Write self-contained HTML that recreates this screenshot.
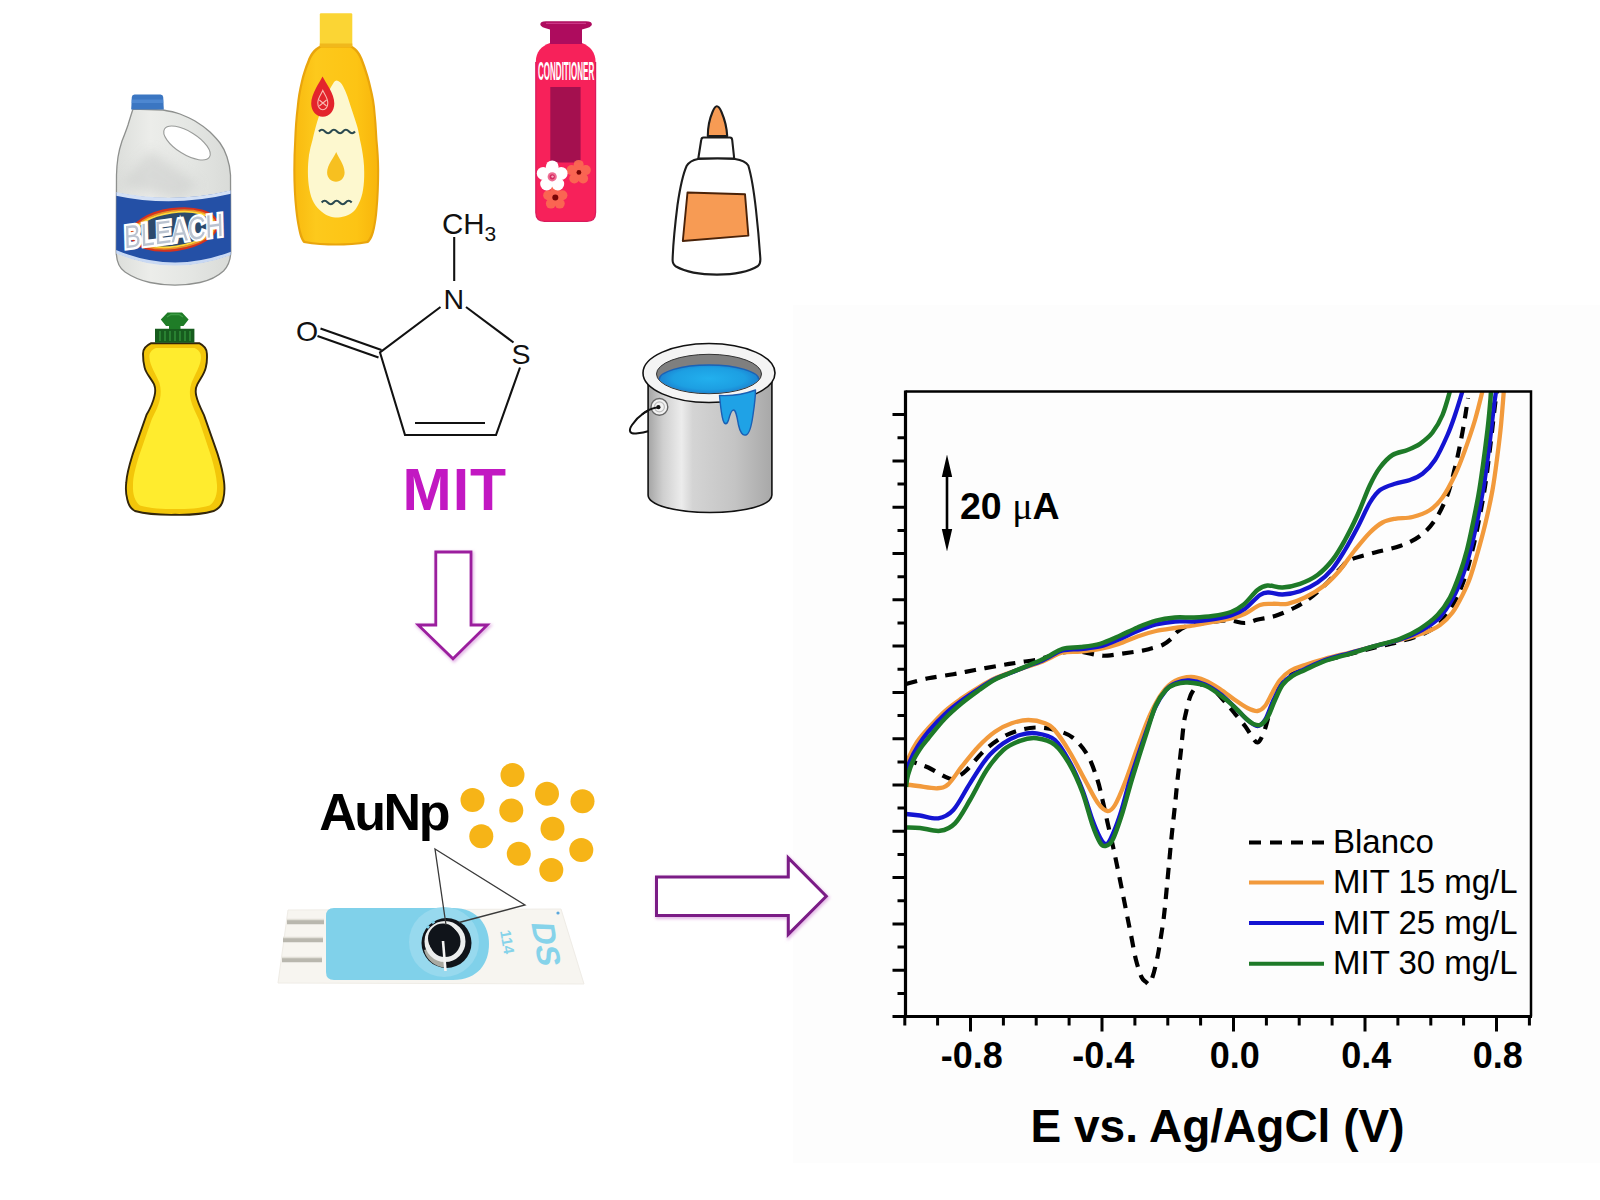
<!DOCTYPE html>
<html lang="es">
<head>
<meta charset="utf-8">
<title>MIT – AuNp – voltamperometría</title>
<style>
html,body{margin:0;padding:0;background:#fff;}
body{width:1600px;height:1200px;overflow:hidden;font-family:"Liberation Sans",sans-serif;}
svg{display:block;}
.b{font-family:"Liberation Sans",sans-serif;font-weight:700;}
.r{font-family:"Liberation Sans",sans-serif;font-weight:400;}
</style>
</head>
<body>
<svg width="1600" height="1200" viewBox="0 0 1600 1200">
<rect width="1600" height="1200" fill="#ffffff"/>

<!-- ================= CHART ================= -->
<g id="chart">
<defs><clipPath id="plotclip"><rect x="905.5" y="391.5" width="625.5" height="625.0"/></clipPath></defs>
<rect x="793" y="305" width="807" height="858" fill="#fdfdfd"/>
<g clip-path="url(#plotclip)" fill="none" stroke-linejoin="round" stroke-linecap="butt">
<path d="M906.0,684.0C909.7,683.0 920.4,679.9 928.3,678.3C936.2,676.7 945.5,675.6 953.3,674.2C961.1,672.8 967.5,671.4 975.0,670.0C982.5,668.6 991.1,667.0 998.3,665.8C1005.5,664.5 1011.3,663.6 1018.3,662.5C1025.2,661.4 1033.0,660.6 1040.0,659.0C1047.0,657.4 1053.7,654.2 1060.0,653.0C1066.3,651.8 1071.8,651.2 1078.0,651.5C1084.2,651.8 1092.6,654.3 1097.5,655.0C1102.4,655.7 1102.1,656.0 1107.5,655.6C1112.9,655.2 1124.2,653.3 1130.0,652.5C1135.8,651.7 1139.2,651.2 1142.5,650.6C1145.8,650.0 1146.7,649.7 1150.0,648.8C1153.3,647.8 1158.8,646.8 1162.5,645.0C1166.2,643.2 1169.6,640.2 1172.0,638.0C1174.4,635.8 1174.7,633.9 1177.0,632.0C1179.3,630.1 1182.2,627.9 1186.0,626.5C1189.8,625.1 1195.2,624.3 1200.0,623.5C1204.8,622.7 1210.0,622.0 1215.0,621.5C1220.0,621.0 1225.0,620.2 1230.0,620.5C1235.0,620.8 1240.3,623.2 1245.0,623.0C1249.7,622.8 1253.0,620.7 1258.0,619.5C1263.0,618.3 1268.8,618.0 1275.0,616.0C1281.2,614.0 1289.2,610.5 1295.0,607.5C1300.8,604.5 1305.0,601.8 1310.0,598.0C1315.0,594.2 1320.0,589.8 1325.0,585.0C1330.0,580.2 1335.8,573.2 1340.0,569.0C1344.2,564.8 1344.2,562.8 1350.0,560.0C1355.8,557.2 1366.7,554.8 1375.0,552.5C1383.3,550.2 1392.5,548.8 1400.0,546.0C1407.5,543.2 1414.2,540.3 1420.0,536.0C1425.8,531.7 1430.4,526.8 1435.0,520.0C1439.6,513.2 1444.2,503.8 1447.5,495.0C1450.8,486.2 1452.9,475.8 1455.0,467.5C1457.1,459.2 1458.3,453.3 1460.0,445.0C1461.7,436.7 1463.7,425.3 1465.0,417.5C1466.3,409.7 1467.5,401.2 1468.0,398.0" stroke="#000" stroke-width="4.2" stroke-dasharray="11.5 8.5"/>
<path d="M906.0,759.0C907.8,759.7 913.0,761.9 916.7,763.3C920.4,764.7 923.6,765.3 928.3,767.5C933.0,769.7 941.1,774.8 945.0,776.7C948.9,778.6 949.5,779.0 951.7,779.0C953.9,779.0 955.5,778.0 958.0,776.5C960.5,775.0 962.2,774.4 966.7,770.0C971.2,765.6 978.9,755.5 985.0,750.0C991.1,744.5 997.5,740.0 1003.3,736.7C1009.1,733.4 1014.4,731.5 1020.0,730.0C1025.6,728.5 1030.9,727.5 1036.7,727.5C1042.5,727.5 1049.0,728.3 1055.0,730.0C1061.0,731.7 1067.1,733.3 1072.5,737.5C1077.9,741.7 1083.3,747.9 1087.5,755.0C1091.7,762.1 1095.0,772.5 1097.5,780.0C1100.0,787.5 1100.8,792.9 1102.5,800.0C1104.2,807.1 1105.6,814.2 1107.5,822.5C1109.4,830.8 1111.7,840.4 1113.8,850.0C1115.8,859.6 1118.0,870.0 1120.0,880.0C1122.0,890.0 1124.2,900.8 1126.0,910.0C1127.8,919.2 1129.3,926.7 1131.0,935.0C1132.7,943.3 1134.2,953.0 1136.0,960.0C1137.8,967.0 1139.8,973.3 1141.5,977.0C1143.2,980.7 1144.7,980.8 1146.0,982.0C1147.3,983.2 1148.1,984.8 1149.2,984.0C1150.3,983.2 1151.5,980.0 1152.5,977.0C1153.5,974.0 1154.5,970.5 1155.5,966.0C1156.5,961.5 1157.4,958.1 1158.8,950.0C1160.1,941.9 1162.3,929.2 1163.8,917.5C1165.2,905.8 1166.3,892.5 1167.5,880.0C1168.7,867.5 1169.8,855.0 1171.0,842.5C1172.2,830.0 1173.9,815.4 1175.0,805.0C1176.1,794.6 1176.5,789.2 1177.5,780.0C1178.5,770.8 1180.0,759.4 1181.0,750.0C1182.0,740.6 1182.9,730.0 1183.8,723.8C1184.6,717.5 1185.1,716.7 1186.0,712.5C1186.9,708.3 1188.4,702.1 1189.4,698.8C1190.4,695.4 1190.6,694.7 1192.0,692.5C1193.4,690.3 1195.7,686.8 1198.0,685.5C1200.3,684.2 1203.0,683.9 1206.0,685.0C1209.0,686.1 1212.4,688.7 1216.0,692.0C1219.6,695.3 1224.3,701.4 1227.5,705.0C1230.7,708.6 1232.1,710.2 1235.0,713.8C1237.9,717.2 1242.3,722.5 1245.0,726.0C1247.7,729.5 1248.9,732.2 1251.0,735.0C1253.1,737.8 1255.4,742.9 1257.5,742.5C1259.6,742.1 1261.7,737.6 1263.8,732.5C1265.8,727.4 1267.6,719.1 1270.0,712.0C1272.4,704.9 1274.7,696.2 1278.0,690.0C1281.3,683.8 1285.5,678.7 1290.0,675.0C1294.5,671.3 1299.2,670.4 1305.0,668.0C1310.8,665.6 1317.5,662.8 1325.0,660.5C1332.5,658.2 1341.7,656.2 1350.0,654.0C1358.3,651.8 1366.7,649.6 1375.0,647.5C1383.3,645.4 1391.7,643.9 1400.0,641.5C1408.3,639.1 1418.2,636.2 1425.0,633.0C1431.8,629.8 1436.2,627.0 1441.0,622.0C1445.8,617.0 1450.2,610.0 1454.0,603.0C1457.8,596.0 1461.0,588.5 1464.0,580.0C1467.0,571.5 1469.3,562.8 1472.0,552.0C1474.7,541.2 1477.7,527.0 1480.0,515.0C1482.3,503.0 1484.2,492.5 1486.0,480.0C1487.8,467.5 1489.5,452.5 1491.0,440.0C1492.5,427.5 1494.0,413.2 1495.0,405.0C1496.0,396.8 1496.7,393.3 1497.0,391.0" stroke="#000" stroke-width="4.2" stroke-dasharray="11.5 8.5"/>
<path d="M906.0,767.0C906.5,765.3 907.2,761.2 909.0,757.0C910.8,752.8 913.8,746.8 917.0,742.0C920.2,737.2 923.6,733.5 928.3,728.3C933.0,723.1 939.4,716.0 945.0,711.0C950.6,706.0 955.9,702.4 961.7,698.3C967.5,694.2 974.5,689.8 980.0,686.5C985.5,683.2 990.0,680.6 995.0,678.3C1000.0,676.0 1004.5,674.5 1010.0,672.5C1015.5,670.5 1023.0,668.2 1028.0,666.5C1033.0,664.8 1036.3,663.9 1040.0,662.5C1043.7,661.1 1046.2,659.7 1050.0,658.0C1053.8,656.3 1057.3,653.6 1062.5,652.5C1067.7,651.4 1074.8,652.1 1081.0,651.5C1087.2,650.9 1093.7,650.2 1100.0,649.0C1106.3,647.8 1112.5,646.1 1118.8,644.0C1125.0,641.9 1131.3,638.7 1137.5,636.5C1143.7,634.3 1149.8,632.4 1156.0,631.0C1162.2,629.6 1168.7,628.9 1175.0,628.0C1181.3,627.1 1187.8,626.5 1194.0,625.5C1200.2,624.5 1206.3,623.2 1212.5,622.0C1218.7,620.8 1225.6,619.9 1231.0,618.5C1236.4,617.1 1240.2,616.0 1245.0,613.8C1249.8,611.5 1255.4,606.7 1260.0,605.0C1264.6,603.3 1267.9,604.0 1272.5,603.8C1277.1,603.5 1282.1,604.8 1287.5,603.8C1292.9,602.7 1298.8,600.6 1305.0,597.5C1311.2,594.4 1319.2,589.6 1325.0,585.0C1330.8,580.4 1335.0,575.8 1340.0,570.0C1345.0,564.2 1350.0,556.2 1355.0,550.0C1360.0,543.8 1365.4,537.1 1370.0,532.5C1374.6,527.9 1378.3,524.8 1382.5,522.5C1386.7,520.2 1390.0,519.7 1395.0,518.8C1400.0,517.8 1406.7,518.5 1412.5,517.0C1418.3,515.5 1425.0,513.2 1430.0,510.0C1435.0,506.8 1438.3,503.3 1442.5,497.5C1446.7,491.7 1451.2,482.9 1455.0,475.0C1458.8,467.1 1461.7,459.2 1465.0,450.0C1468.3,440.8 1472.1,429.8 1475.0,420.0C1477.9,410.2 1480.5,399.3 1482.5,391.0C1484.5,382.7 1486.2,373.5 1487.0,370.0" stroke="#f29a3c" stroke-width="4.3"/>
<path d="M906.0,784.5C908.0,784.8 912.9,785.4 918.0,786.0C923.1,786.6 931.7,788.5 936.7,788.3C941.7,788.0 943.8,788.1 948.0,784.5C952.2,780.9 956.7,773.0 961.7,766.7C966.8,760.4 972.8,752.5 978.3,746.7C983.8,740.9 989.4,735.6 995.0,731.7C1000.6,727.8 1006.2,725.2 1011.7,723.3C1017.2,721.3 1022.8,720.0 1028.3,720.0C1033.8,720.0 1040.5,721.5 1045.0,723.3C1049.5,725.0 1050.8,725.6 1055.0,730.5C1059.2,735.4 1065.0,744.2 1070.0,752.5C1075.0,760.8 1080.4,771.7 1085.0,780.0C1089.6,788.3 1093.8,797.3 1097.5,802.5C1101.2,807.7 1104.6,810.6 1107.5,811.0C1110.4,811.4 1112.1,809.8 1115.0,805.0C1117.9,800.2 1121.2,792.1 1125.0,782.5C1128.8,772.9 1133.3,758.8 1137.5,747.5C1141.7,736.2 1145.8,724.2 1150.0,715.0C1154.2,705.8 1158.3,698.2 1162.5,692.5C1166.7,686.8 1170.2,683.6 1175.0,681.0C1179.8,678.4 1186.0,677.1 1191.0,677.0C1196.0,676.9 1200.2,678.5 1205.0,680.5C1209.8,682.5 1215.0,685.8 1220.0,689.0C1225.0,692.2 1230.4,696.8 1235.0,700.0C1239.6,703.2 1243.8,706.2 1247.5,708.0C1251.2,709.8 1254.6,711.3 1257.5,711.0C1260.4,710.7 1262.5,709.1 1265.0,706.0C1267.5,702.9 1270.0,696.8 1272.5,692.5C1275.0,688.2 1277.1,683.6 1280.0,680.0C1282.9,676.4 1285.8,673.5 1290.0,671.0C1294.2,668.5 1299.2,667.0 1305.0,665.0C1310.8,663.0 1317.5,660.8 1325.0,658.8C1332.5,656.7 1341.7,654.6 1350.0,652.5C1358.3,650.4 1366.7,648.1 1375.0,646.0C1383.3,643.9 1391.7,642.2 1400.0,640.0C1408.3,637.8 1418.3,635.0 1425.0,632.5C1431.7,630.0 1435.4,628.3 1440.0,625.0C1444.6,621.7 1448.8,617.5 1452.5,612.5C1456.2,607.5 1459.6,600.8 1462.5,595.0C1465.4,589.2 1467.6,584.7 1470.0,578.0C1472.4,571.3 1474.5,563.8 1477.0,555.0C1479.5,546.2 1482.4,535.8 1485.0,525.0C1487.6,514.2 1490.4,501.7 1492.5,490.0C1494.6,478.3 1496.1,465.8 1497.5,455.0C1498.9,444.2 1500.0,435.7 1501.0,425.0C1502.0,414.3 1503.1,400.2 1503.8,391.0C1504.4,381.8 1504.8,373.5 1505.0,370.0" stroke="#f29a3c" stroke-width="4.3"/>
<path d="M906.0,773.0C906.6,771.2 907.5,766.5 909.5,762.0C911.5,757.5 914.9,751.0 918.0,746.0C921.1,741.0 923.8,737.0 928.3,731.7C932.8,726.4 939.4,719.2 945.0,714.0C950.6,708.8 955.9,704.8 961.7,700.5C967.5,696.2 974.5,691.6 980.0,688.0C985.5,684.4 990.0,681.5 995.0,679.0C1000.0,676.5 1004.5,675.2 1010.0,673.0C1015.5,670.8 1023.0,667.9 1028.0,666.0C1033.0,664.1 1036.3,663.1 1040.0,661.5C1043.7,659.9 1046.2,658.3 1050.0,656.5C1053.8,654.7 1057.3,651.8 1062.5,650.5C1067.7,649.2 1074.8,649.7 1081.0,649.0C1087.2,648.3 1093.7,648.1 1100.0,646.5C1106.3,644.9 1112.5,642.1 1118.8,639.5C1125.0,636.9 1131.3,633.5 1137.5,631.0C1143.7,628.5 1149.8,626.1 1156.0,624.5C1162.2,622.9 1168.7,622.0 1175.0,621.5C1181.3,621.0 1187.8,621.8 1194.0,621.5C1200.2,621.2 1206.3,620.5 1212.5,619.5C1218.7,618.5 1225.6,617.3 1231.0,615.5C1236.4,613.7 1240.2,612.2 1245.0,608.8C1249.8,605.3 1256.0,597.7 1260.0,595.0C1264.0,592.3 1265.0,592.6 1268.8,592.5C1272.5,592.4 1277.3,594.7 1282.5,594.5C1287.7,594.3 1294.2,593.2 1300.0,591.2C1305.8,589.2 1312.1,586.2 1317.5,582.5C1322.9,578.8 1327.9,574.2 1332.5,568.8C1337.1,563.3 1340.8,556.9 1345.0,550.0C1349.2,543.1 1353.3,535.4 1357.5,527.5C1361.7,519.6 1366.2,508.8 1370.0,502.5C1373.8,496.2 1375.8,493.1 1380.0,490.0C1384.2,486.9 1390.0,485.4 1395.0,483.8C1400.0,482.1 1405.4,481.7 1410.0,480.0C1414.6,478.3 1418.3,477.1 1422.5,473.8C1426.7,470.4 1430.8,466.5 1435.0,460.0C1439.2,453.5 1444.2,442.5 1447.5,435.0C1450.8,427.5 1452.5,422.3 1455.0,415.0C1457.5,407.7 1460.3,398.5 1462.5,391.0C1464.7,383.5 1467.1,373.5 1468.0,370.0" stroke="#1414d2" stroke-width="4.3"/>
<path d="M906.0,814.0C908.3,814.2 914.6,814.8 920.0,815.5C925.4,816.2 932.8,819.2 938.3,818.3C943.8,817.4 948.0,815.8 953.3,810.0C958.6,804.2 964.4,791.9 970.0,783.3C975.6,774.7 981.2,765.0 986.7,758.3C992.2,751.6 997.8,747.2 1003.3,743.3C1008.8,739.4 1014.4,736.7 1020.0,735.0C1025.6,733.3 1030.9,732.5 1036.7,733.3C1042.5,734.1 1049.5,735.1 1055.0,740.0C1060.5,744.9 1065.4,754.2 1070.0,762.5C1074.6,770.8 1078.8,780.4 1082.5,790.0C1086.2,799.6 1089.6,812.1 1092.5,820.0C1095.4,827.9 1097.9,833.5 1100.0,837.5C1102.1,841.5 1103.3,843.3 1105.0,843.8C1106.7,844.2 1107.5,844.8 1110.0,840.0C1112.5,835.2 1116.7,825.0 1120.0,815.0C1123.3,805.0 1126.2,792.1 1130.0,780.0C1133.8,767.9 1138.3,754.5 1142.5,742.5C1146.7,730.5 1151.1,716.8 1155.0,708.0C1158.9,699.2 1162.5,694.2 1166.0,690.0C1169.5,685.8 1172.2,684.6 1176.0,683.0C1179.8,681.4 1184.2,680.2 1189.0,680.5C1193.8,680.8 1199.8,682.3 1205.0,684.5C1210.2,686.7 1215.0,689.9 1220.0,693.8C1225.0,697.6 1230.4,703.1 1235.0,707.5C1239.6,711.9 1243.8,716.9 1247.5,720.0C1251.2,723.1 1254.6,726.0 1257.5,726.0C1260.4,726.0 1262.5,723.9 1265.0,720.0C1267.5,716.1 1269.7,708.5 1272.5,702.5C1275.3,696.5 1278.7,688.6 1282.0,684.0C1285.3,679.4 1288.7,677.5 1292.5,675.0C1296.3,672.5 1299.6,671.5 1305.0,669.0C1310.4,666.5 1317.5,662.7 1325.0,660.0C1332.5,657.3 1341.7,655.3 1350.0,653.0C1358.3,650.7 1366.7,648.2 1375.0,646.0C1383.3,643.8 1392.2,642.2 1400.0,639.5C1407.8,636.8 1415.5,633.6 1422.0,630.0C1428.5,626.4 1433.8,623.3 1439.0,618.0C1444.2,612.7 1449.0,605.2 1453.0,598.0C1457.0,590.8 1460.0,583.3 1463.0,575.0C1466.0,566.7 1468.3,558.5 1471.0,548.0C1473.7,537.5 1476.7,523.7 1479.0,512.0C1481.3,500.3 1483.2,490.0 1485.0,478.0C1486.8,466.0 1488.5,452.2 1490.0,440.0C1491.5,427.8 1493.0,413.2 1494.0,405.0C1495.0,396.8 1495.5,396.8 1496.0,391.0C1496.5,385.2 1496.8,373.5 1497.0,370.0" stroke="#1414d2" stroke-width="4.3"/>
<path d="M906.0,787.0C906.3,785.0 906.8,779.3 908.0,775.0C909.2,770.7 911.0,765.3 913.0,761.0C915.0,756.7 917.5,752.8 920.0,749.0C922.5,745.2 924.1,743.4 928.3,738.3C932.5,733.2 939.4,724.3 945.0,718.5C950.6,712.7 955.9,708.1 961.7,703.3C967.5,698.5 974.5,693.5 980.0,689.5C985.5,685.5 990.0,682.2 995.0,679.5C1000.0,676.8 1004.5,675.3 1010.0,673.0C1015.5,670.7 1023.0,667.6 1028.0,665.5C1033.0,663.4 1036.3,662.2 1040.0,660.5C1043.7,658.8 1046.2,657.5 1050.0,655.5C1053.8,653.5 1057.3,650.2 1062.5,648.8C1067.7,647.3 1074.8,647.8 1081.0,647.0C1087.2,646.2 1093.7,645.5 1100.0,643.8C1106.3,642.0 1112.5,639.0 1118.8,636.2C1125.0,633.5 1131.3,630.1 1137.5,627.5C1143.7,624.9 1149.8,622.3 1156.0,620.6C1162.2,618.9 1168.7,618.0 1175.0,617.5C1181.3,617.0 1187.8,617.8 1194.0,617.5C1200.2,617.2 1206.3,616.9 1212.5,616.0C1218.7,615.1 1225.8,613.9 1231.0,612.0C1236.2,610.1 1239.3,608.2 1243.8,604.5C1248.2,600.8 1253.5,593.2 1257.5,590.0C1261.5,586.8 1263.3,585.9 1267.5,585.5C1271.7,585.1 1277.1,587.8 1282.5,587.5C1287.9,587.2 1294.2,585.8 1300.0,583.8C1305.8,581.7 1312.1,579.0 1317.5,575.0C1322.9,571.0 1327.9,565.8 1332.5,560.0C1337.1,554.2 1340.8,547.5 1345.0,540.0C1349.2,532.5 1353.3,524.2 1357.5,515.0C1361.7,505.8 1366.2,492.9 1370.0,485.0C1373.8,477.1 1376.2,472.5 1380.0,467.5C1383.8,462.5 1387.9,457.9 1392.5,455.0C1397.1,452.1 1402.9,451.9 1407.5,450.0C1412.1,448.1 1415.8,446.7 1420.0,443.8C1424.2,440.8 1428.8,437.3 1432.5,432.5C1436.2,427.7 1439.6,421.9 1442.5,415.0C1445.4,408.1 1447.9,398.5 1450.0,391.0C1452.1,383.5 1454.2,373.5 1455.0,370.0" stroke="#1e7a28" stroke-width="4.5"/>
<path d="M906.0,827.5C908.3,827.6 914.3,827.5 920.0,828.0C925.7,828.5 934.2,831.6 940.0,830.8C945.8,830.0 950.0,828.4 955.0,823.3C960.0,818.2 964.7,808.9 970.0,800.0C975.3,791.1 981.2,778.3 986.7,770.0C992.2,761.7 997.8,754.9 1003.3,750.0C1008.8,745.1 1014.4,742.8 1020.0,740.8C1025.6,738.8 1030.9,737.6 1036.7,738.3C1042.5,739.0 1049.5,740.5 1055.0,745.0C1060.5,749.5 1065.4,757.1 1070.0,765.0C1074.6,772.9 1078.8,782.5 1082.5,792.5C1086.2,802.5 1089.6,816.7 1092.5,825.0C1095.4,833.3 1097.9,839.0 1100.0,842.5C1102.1,846.0 1102.9,846.4 1105.0,846.0C1107.1,845.6 1109.6,845.6 1112.5,840.0C1115.4,834.4 1119.2,822.9 1122.5,812.5C1125.8,802.1 1128.3,791.2 1132.5,777.5C1136.7,763.8 1143.6,742.1 1147.5,730.0C1151.4,717.9 1152.9,711.7 1156.0,705.0C1159.1,698.3 1162.8,693.4 1166.0,690.0C1169.2,686.6 1171.4,685.6 1175.0,684.4C1178.6,683.1 1182.3,682.2 1187.5,682.5C1192.7,682.8 1199.8,683.3 1206.0,686.0C1212.2,688.7 1219.8,694.8 1225.0,698.8C1230.2,702.8 1234.0,706.7 1237.5,710.0C1241.0,713.3 1243.4,716.2 1246.0,718.5C1248.6,720.8 1250.7,722.7 1253.0,723.8C1255.3,724.8 1257.6,726.0 1260.0,725.0C1262.4,724.0 1265.0,721.7 1267.5,717.5C1270.0,713.3 1272.5,705.4 1275.0,700.0C1277.5,694.6 1279.6,689.0 1282.5,685.0C1285.4,681.0 1288.8,678.5 1292.5,676.0C1296.2,673.5 1299.6,672.5 1305.0,670.0C1310.4,667.5 1317.5,663.7 1325.0,661.0C1332.5,658.3 1341.7,656.2 1350.0,653.8C1358.3,651.2 1366.7,648.5 1375.0,646.0C1383.3,643.5 1392.5,641.6 1400.0,638.8C1407.5,635.9 1413.8,632.7 1420.0,628.8C1426.2,624.8 1432.5,620.2 1437.5,615.0C1442.5,609.8 1446.2,604.5 1450.0,597.5C1453.8,590.5 1457.2,580.9 1460.0,573.0C1462.8,565.1 1464.8,558.3 1467.0,550.0C1469.2,541.7 1471.1,532.2 1473.0,523.0C1474.9,513.8 1476.8,504.7 1478.5,495.0C1480.2,485.3 1481.5,475.8 1483.0,465.0C1484.5,454.2 1486.3,440.0 1487.5,430.0C1488.7,420.0 1489.4,411.5 1490.0,405.0C1490.6,398.5 1490.7,396.8 1491.0,391.0C1491.3,385.2 1491.8,373.5 1492.0,370.0" stroke="#1e7a28" stroke-width="4.5"/>
</g>
<g stroke="#000" fill="none">
<path d="M905.5,390.5 V1016.5 H1532" stroke-width="3.2"/>
<path d="M905.5,391.5 H1531 V1016.5" stroke-width="2.5"/>
<path d="M904.8,1016.5 v9M937.6,1016.5 v9M970.5,1016.5 v15M1003.4,1016.5 v9M1036.2,1016.5 v9M1069.1,1016.5 v9M1102.0,1016.5 v15M1134.9,1016.5 v9M1167.8,1016.5 v9M1200.6,1016.5 v9M1233.5,1016.5 v15M1266.4,1016.5 v9M1299.2,1016.5 v9M1332.1,1016.5 v9M1365.0,1016.5 v15M1397.9,1016.5 v9M1430.8,1016.5 v9M1463.6,1016.5 v9M1496.5,1016.5 v15M1529.4,1016.5 v9" stroke-width="3"/>
<path d="M905.5,993.4 h-8M905.5,970.2 h-13M905.5,947.0 h-8M905.5,923.9 h-13M905.5,900.8 h-8M905.5,877.6 h-13M905.5,854.5 h-8M905.5,831.3 h-13M905.5,808.1 h-8M905.5,785.0 h-13M905.5,761.9 h-8M905.5,738.7 h-13M905.5,715.5 h-8M905.5,692.4 h-13M905.5,669.2 h-8M905.5,646.1 h-13M905.5,623.0 h-8M905.5,599.8 h-13M905.5,576.7 h-8M905.5,553.5 h-13M905.5,530.4 h-8M905.5,507.2 h-13M905.5,484.1 h-8M905.5,460.9 h-13M905.5,437.8 h-8M905.5,414.6 h-13M905.5,1016.5 h-13" stroke-width="3"/>
</g>
<text x="971.7" y="1068" text-anchor="middle" class="b" font-size="36" fill="#000">-0.8</text>
<text x="1103.2" y="1068" text-anchor="middle" class="b" font-size="36" fill="#000">-0.4</text>
<text x="1234.7" y="1068" text-anchor="middle" class="b" font-size="36" fill="#000">0.0</text>
<text x="1366.2" y="1068" text-anchor="middle" class="b" font-size="36" fill="#000">0.4</text>
<text x="1497.7" y="1068" text-anchor="middle" class="b" font-size="36" fill="#000">0.8</text>
<text x="1217.5" y="1142" text-anchor="middle" class="b" font-size="46" fill="#000">E vs. Ag/AgCl (V)</text>
<path d="M947,470 V536" stroke="#000" stroke-width="2.6" fill="none"/>
<path d="M947,454.5 l5.2,22.5 h-10.4z M947,551.5 l5.2,-22.5 h-10.4z" fill="#000"/>
<text x="960" y="519" class="b" font-size="37.5" fill="#000">20 <tspan font-family="Liberation Serif, serif" font-weight="400" font-size="38">μ</tspan>A</text>
<path d="M1249,842.5 H1324" stroke="#000" stroke-width="4" stroke-dasharray="12 9" fill="none"/>
<path d="M1249,882.5 H1324" stroke="#f29a3c" stroke-width="4" fill="none"/>
<path d="M1249,923 H1324" stroke="#1414d2" stroke-width="4" fill="none"/>
<path d="M1249,963.75 H1324" stroke="#1e7a28" stroke-width="4" fill="none"/>
<text x="1333" y="853.0" class="r" font-size="33" fill="#000">Blanco</text>
<text x="1333" y="893.0" class="r" font-size="33" fill="#000">MIT 15 mg/L</text>
<text x="1333" y="933.5" class="r" font-size="33" fill="#000">MIT 25 mg/L</text>
<text x="1333" y="974.25" class="r" font-size="33" fill="#000">MIT 30 mg/L</text>
</g>

<!-- ================= PRODUCTS ================= -->
<g id="products">
<defs>
<filter id="bl3" x="-30%" y="-30%" width="160%" height="160%"><feGaussianBlur stdDeviation="6"/></filter>
<linearGradient id="gBleach" x1="0" y1="0" x2="1" y2="0">
<stop offset="0" stop-color="#dcdedb"/><stop offset="0.3" stop-color="#ecedea"/><stop offset="0.65" stop-color="#e4e6e3"/><stop offset="1" stop-color="#d9dbd8"/>
</linearGradient>
<radialGradient id="gBurst" cx="0.5" cy="0.5" r="0.5">
<stop offset="0" stop-color="#ffe23a"/><stop offset="0.55" stop-color="#ffc928"/><stop offset="0.8" stop-color="#f58a1f"/><stop offset="1" stop-color="#d8301c"/>
</radialGradient>
<clipPath id="cBleach"><path d="M133,109 C131,115 129.5,120 128,125 C126,131 124,136 122,141 C120,147 118.8,152 118,157 C117,164 116.6,170 116.5,175 L116.2,252 C116.5,262 119,268 125,272 C133,277.5 141,280.5 150,282.5 C160,284.6 168,285.2 175,285.2 C182,285.2 190,284.6 200,282.5 C209,280.5 217,277 223.5,271 C228.5,266 230.5,260 230.8,252 L230.5,175 C230.2,169 229,163 227,157 C225,151 223,147 220,143 C217,139 214,136 210,132 C205,127.5 200,124 195,121 C190,118 185,116 180,114 C175,112.3 169,111 163,110 Z"/></clipPath>
<linearGradient id="gShampoo" x1="0" y1="0" x2="1" y2="0">
<stop offset="0" stop-color="#f9bb10"/><stop offset="0.25" stop-color="#fdc91c"/><stop offset="0.75" stop-color="#fdc414"/><stop offset="1" stop-color="#f8b60c"/>
</linearGradient>
<linearGradient id="gCan" x1="0" y1="0" x2="1" y2="0">
<stop offset="0" stop-color="#a4a4a4"/><stop offset="0.12" stop-color="#cfcfcf"/><stop offset="0.27" stop-color="#ececec"/><stop offset="0.36" stop-color="#d4d4d4"/><stop offset="0.7" stop-color="#c4c4c4"/><stop offset="1" stop-color="#a8a8a8"/>
</linearGradient>
<radialGradient id="gPaint" cx="0.5" cy="0.45" r="0.6">
<stop offset="0" stop-color="#22b0ee"/><stop offset="0.6" stop-color="#1d9fe2"/><stop offset="1" stop-color="#1a6ec4"/>
</radialGradient>
</defs>

<!-- ===== bleach ===== -->
<g id="bleach">
<path d="M133,109 C131,115 129.5,120 128,125 C126,131 124,136 122,141 C120,147 118.8,152 118,157 C117,164 116.6,170 116.5,175 L116.2,252 C116.5,262 119,268 125,272 C133,277.5 141,280.5 150,282.5 C160,284.6 168,285.2 175,285.2 C182,285.2 190,284.6 200,282.5 C209,280.5 217,277 223.5,271 C228.5,266 230.5,260 230.8,252 L230.5,175 C230.2,169 229,163 227,157 C225,151 223,147 220,143 C217,139 214,136 210,132 C205,127.5 200,124 195,121 C190,118 185,116 180,114 C175,112.3 169,111 163,110 Z" fill="url(#gBleach)" stroke="#8e908e" stroke-width="1.3"/>
<g clip-path="url(#cBleach)">
<path d="M150,150 L200,185 L180,200 L120,185 Z" fill="#c9cbc9" opacity="0.55" filter="url(#bl3)"/>
<path d="M110,191 Q172,206 237,189 V252 Q172,279 110,250 Z" fill="#2450a6"/>
<path d="M110,192.5 Q172,207.5 237,190.5" stroke="#d3e0f5" stroke-width="3.6" fill="none"/>
<path d="M110,249 Q172,278 237,251" stroke="#c9d9f3" stroke-width="3.2" fill="none"/>
</g>
<g transform="rotate(-8 174.2 229.5)">
<ellipse cx="174.2" cy="229.5" rx="43.5" ry="20.5" fill="#2c4a6c" stroke="#d8321d" stroke-width="2.2"/>
<ellipse cx="174.2" cy="229.5" rx="41.6" ry="18.6" fill="none" stroke="#f58a1f" stroke-width="1.8"/>
<ellipse cx="174.2" cy="229.5" rx="40" ry="17" fill="none" stroke="#ffd83a" stroke-width="1.8"/>
</g>
<text transform="translate(124.6,248.6) rotate(-7.5) skewX(-6)" class="b" font-size="32" textLength="100" lengthAdjust="spacingAndGlyphs" fill="#ffffff" stroke="#ffffff" stroke-width="4.4" stroke-linejoin="miter">BLEACH</text>
<text transform="translate(124.6,248.6) rotate(-7.5) skewX(-6)" class="r" font-size="32" textLength="100" lengthAdjust="spacingAndGlyphs" fill="#2d4770" opacity="0.32">BLEACH</text>
<ellipse cx="187" cy="143" rx="26.5" ry="11.3" fill="#ffffff" stroke="#9a9c9a" stroke-width="1.1" transform="rotate(32 187 143)"/>
<path d="M134.5,94.5 H160.5 Q163,94.5 163.2,97 L163.8,109.5 H131.2 L131.8,97 Q132,94.5 134.5,94.5 Z" fill="#3b76c2"/>
<path d="M131.6,99.5 H163.4 V103 H131.5 Z" fill="#5a92da" opacity="0.6"/>
</g>

<!-- ===== shampoo ===== -->
<g id="shampoo">
<path d="M320,45.5 C313,49 309.5,55 307.5,60.8 C304.5,68 302.3,75 300.8,81.7 C298.8,90 297.5,98 296.7,106.7 C295.3,118 294.6,129 294.2,140 C293.6,150 293.3,160 293.3,170 C293.3,184 294,198 295.3,210 C296,217 297,223 298,228 C299.3,235 301,240.5 303.7,243 C314,245 326,245.5 336,245.5 C346,245.5 358,245 368.1,243 C371.5,240.5 373.5,235 375,228 C376,223 377,217 377.5,210 C378.7,198 379.2,184 379.2,170 C379.2,160 378.5,150 377.5,140 C377,129 376.2,118 375,106.7 C374,98 372,90 370,81.7 C368.3,75 366,68 363.3,60.8 C361.3,55 358,49 351.7,45.5 Z" fill="#e9a50c"/>
<path d="M321,47.5 C315,51 311.5,56.5 309.6,62 C306.6,69 304.4,76 302.9,82.5 C300.9,91 299.6,99 298.8,107.5 C297.4,118.5 296.7,129.5 296.3,140 C295.7,150 295.4,160 295.4,170 C295.4,184 296.1,198 297.4,209.5 C298.1,216.5 299.1,222.5 300.1,227.5 C301.3,233.5 302.8,238.5 305,241 C315,243 326,243.4 336,243.4 C346,243.4 357,243 366.8,241 C369.5,238.5 371.5,233.5 372.9,227.5 C373.9,222.5 374.9,216.5 375.4,209.5 C376.6,198 377.1,184 377.1,170 C377.1,160 376.4,150 375.4,140 C374.9,129.5 374.1,118.5 372.9,107.5 C371.9,99 369.9,91 367.9,82.5 C366.2,76 363.9,69 361.2,62 C359.3,56.5 356.5,51 350.7,47.5 Z" fill="url(#gShampoo)"/>
<path d="M321,13.2 H351 Q352.3,13.2 352.3,14.6 V46.5 H319.8 V14.6 Q319.8,13.2 321,13.2 Z" fill="#fbd534"/>
<path d="M319.8,43.5 H352.3 V47 H319.8 Z" fill="#f0b81c"/>
<path d="M336.7,80.6 C339.5,81 341.5,83.5 343.3,86.7 C346.5,93 348.8,100 350.8,106.7 C353.3,114 355.6,121 357.5,127.5 C358.6,132 359.4,136 360,140 C361.6,147 362.8,153 363.5,160 C364,164 364.2,168 364.2,172 C364.3,178 364,184 363,190 C362.2,195 360.8,199.5 359,203 C357.8,205.8 356.5,208 355,210 C352.8,212.6 350,214.5 347,215.5 C344.2,216.6 341.3,217.4 338.3,217.5 C332,217.7 326,215.5 321.7,211.7 C318.5,209.2 316,206.3 314,203 C311.8,199 310.3,194.5 309.5,190 C308.4,184 307.9,178 307.9,172 C307.9,166 308.3,160.5 309,155 C309.8,150 311,145 312.5,140 C314.3,132 316.3,124 319,116 C322.3,105 327.5,92 333.3,83.3 C334.3,81.6 335.5,80.6 336.7,80.6 Z" fill="#fdf8cf"/>
<path d="M322.5,76.5 C324.5,80 327,84 329.5,88.5 C332.3,93.5 334.3,98.5 334.3,103.5 C334.3,111 329.3,116.8 322.8,116.8 C316.3,116.8 311.2,111 311.2,103.5 C311.2,98.5 313.3,93.5 315.8,88.5 C318,84 320.8,80 322.5,76.5 Z" fill="#e3242c"/>
<path d="M322.8,90.5 C324.3,94 327.8,98 327.8,103 C327.8,107 325.6,109.8 322.8,109.8 C320,109.8 317.8,107 317.8,103 C317.8,98 321.3,94 322.8,90.5 Z M319.3,100 L326.5,106 M326.5,100 L319.3,106" fill="none" stroke="#f9b9b0" stroke-width="1.1"/>
<path d="M319,131.5 q2.8,-3.4 6,0 t6,0 t6,0 t6,0 t6,0 t6,0" fill="none" stroke="#2b4a50" stroke-width="2.1"/>
<path d="M321.7,202.5 q2.8,-3.4 6,0 t6,0 t6,0 t6,0 t6,0" fill="none" stroke="#2b4a50" stroke-width="2.1"/>
<path d="M336.2,152 C338,157 344.6,165 344.6,172.5 C344.6,178 340.7,181.8 336,181.8 C331.2,181.8 327.1,178 327.1,172.5 C327.1,165 334.3,157 336.2,152 Z" fill="#f7c020"/>
</g>

<!-- ===== conditioner ===== -->
<g id="conditioner">
<path d="M550,43 C541,46 535.8,52.5 535.8,62 V212.5 Q535.8,221.3 544.5,221.3 H587 Q595.6,221.3 595.6,212.5 V62 C595.6,52.5 590,46 582,43 Z" fill="#f7215a"/>
<path d="M535.8,62 V212.5 Q535.8,221.3 544.5,221.3 H587 Q595.6,221.3 595.6,212.5 V62" fill="none" stroke="#d81a5c" stroke-width="1.2"/>
<path d="M540.3,24.5 Q540.3,21.2 546,21.2 H586 Q591.9,21.2 591.9,24.5 Q591.9,27.3 582,29.5 V44 H550 V29.5 Q540.3,27.3 540.3,24.5 Z" fill="#ae0c5e"/>
<path d="M546,23.3 H586" stroke="#d84a98" stroke-width="1.2" opacity="0.7"/>
<rect x="550.3" y="87" width="30.3" height="75.5" fill="#a4104f"/>
<text x="538" y="80.4" class="b" font-size="25" textLength="56.2" lengthAdjust="spacingAndGlyphs" fill="#ffffff">CONDITIONER</text>
<g fill="#fb6b52" opacity="0.92">
<g transform="translate(578.7,172.4)"><circle r="6.5"/><circle cx="0" cy="-7.5" r="5"/><circle cx="7.1" cy="-2.3" r="5"/><circle cx="4.4" cy="6.1" r="5"/><circle cx="-4.4" cy="6.1" r="5"/><circle cx="-7.1" cy="-2.3" r="5"/></g>
<g transform="translate(555.3,197.5)"><circle r="6.5"/><circle cx="0" cy="-7.5" r="5"/><circle cx="7.1" cy="-2.3" r="5"/><circle cx="4.4" cy="6.1" r="5"/><circle cx="-4.4" cy="6.1" r="5"/><circle cx="-7.1" cy="-2.3" r="5"/></g>
</g>
<circle cx="578.9" cy="172.4" r="2.4" fill="#7a0606"/><circle cx="555.3" cy="197.5" r="3" fill="#7a0606"/>
<g transform="translate(552.2,176.3)" fill="#ffffff"><circle r="8.5"/><circle cx="0" cy="-9.5" r="6.4"/><circle cx="9" cy="-2.9" r="6.4"/><circle cx="5.6" cy="7.7" r="6.4"/><circle cx="-5.6" cy="7.7" r="6.4"/><circle cx="-9" cy="-2.9" r="6.4"/></g>
<circle cx="552.2" cy="176.8" r="4.6" fill="#ee6d93"/><circle cx="552.2" cy="176.8" r="2.6" fill="#d42a60"/><circle cx="552.5" cy="176.6" r="1.2" fill="#f7b0c4"/>
</g>

<!-- ===== glue ===== -->
<g id="glue" stroke="#1c1c1c" stroke-width="2.1" stroke-linejoin="round">
<path d="M707.8,136 C707.8,128 709.5,119 712.5,112 C714,108.5 715.5,106.3 716.8,106.3 C718.2,106.3 720,108.5 721.5,112 C724.5,119 726.8,128 727.2,136 Z" fill="#f79b54"/>
<path d="M703.5,137.5 H730 Q732,137.5 732.2,140 L734.2,158.5 H698.3 L701.2,140 Q701.5,137.5 703.5,137.5 Z" fill="#fff"/>
<path d="M698,159 C708,158.5 727,158.5 735,159 C741,160 746,162 748.3,165.5 C751.5,176 754,192 756,210 C758,228 759.5,246 760.3,258 C760.6,262 760,264.5 758,266 C750,271 736,274.6 717,274.6 C698,274.6 684,271 676,266.5 C673.5,265 672.6,263 672.6,260 C673,245 675,225 677.5,205 C680,188 683,174 686.7,165.8 C689,162 693,160 698,159 Z" fill="#fff"/>
<path d="M687.5,192.5 L745,194.2 L748.4,235.6 L682.8,241 Z" fill="#f79b54" stroke="#4a2208" stroke-width="1.9"/>
</g>

<!-- ===== dish soap ===== -->
<g id="dish">
<path d="M151.2,343.2 C145,346 143,349 143,353.7 C143,359 143.5,363 144.5,367.1 C146,374 151,378 154.1,384.4 C155.5,388 155.5,392 154.5,395.9 C153,403 150,409 146.4,415.1 L133,453.4 C130,463 127,472 126.3,482.2 C125.5,489 126,495 127.3,499.5 C128.5,505 131,509 135,511 C148,514.5 162,515 175.2,514.8 C188,515 202,514.5 213.6,511 C218.5,509 222,505 223.2,499.5 C224.5,494 224.8,488 224.1,482.2 C223,472 220.5,463 217.4,453.4 L204,415.1 C200.5,408 197.5,402 196.3,395.9 C195.3,392 195.5,388 197.3,384.4 C200.5,378 204.5,374 205.9,367.1 C207,363 207.2,359 206.9,353.7 C206.8,349 205,346 199.2,343.2 Z" fill="#f3c60a" stroke="#33260a" stroke-width="1.9"/>
<path d="M156,348 C151,350 149,353 149.5,358 C150,366 156,374 159.5,383 C161,389 161,394 160,399 C158,408 154,414 151.5,420 L139,456 C136,466 133,476 133,485 C132.5,494 135,502 140,505.5 C150,508.5 163,509 175,509 C188,509 200,508.5 209.5,505.5 C215,502 217.5,494 217,485 C216.5,476 214,466 211,456 L199,420 C196,413 192.5,407 190.5,399 C189.5,394 189.5,389 191.5,383 C195,374 200.5,366 201,358 C201.3,353 199,350 194.5,348 Z" fill="#ffec2e"/>
<path d="M155,328.8 H194.4 V342.8 H155 Z" fill="#175c1e"/>
<path d="M160,331 V341 M165,331 V341 M170,331 V341 M175,331 V341 M180,331 V341 M185,331 V341 M190,331 V341" stroke="#2f8a36" stroke-width="1.6"/>
<path d="M160.8,319.5 L167.5,312.5 H182 L188.6,319.5 L183.5,326 H180.5 V329 H169 V326 H166 Z" fill="#1f7c27"/>
<path d="M167,317 L171,314.5 H179 L183,317" stroke="#3c9c44" stroke-width="1.3" fill="none"/>
</g>

<!-- ===== paint can ===== -->
<g id="can">
<path d="M660,406 C648,409 638,416 632,425 C628,431 630,434 636,433.5 C641,433 646,432 649,431" fill="none" stroke="#111" stroke-width="2"/>
<path d="M648.1,377 V495 C648.1,505 675,512.5 710,512.5 C745,512.5 771.9,505 771.9,495 V377 Z" fill="url(#gCan)" stroke="#111" stroke-width="1.6"/>
<ellipse cx="709" cy="373" rx="66" ry="29.5" fill="#f4f4f4" stroke="#111" stroke-width="1.6"/>
<ellipse cx="709" cy="374" rx="52.5" ry="19.7" fill="#7f7f7f" stroke="#333" stroke-width="1"/>
<clipPath id="cPaint"><ellipse cx="709" cy="374" rx="52" ry="19.2"/></clipPath>
<g clip-path="url(#cPaint)"><ellipse cx="709" cy="380" rx="50" ry="15" fill="url(#gPaint)" stroke="#1a62b6" stroke-width="1.5"/></g>
<path d="M719.5,395.5 C720.5,405 721,413 723,420 C724.5,425 727,425 728.5,420 C730,414 731.5,410 733.5,410 C736,410 737,417 738.5,425 C740,432 742.5,436 746,435 C749.5,434 751.5,426 753,415 C754.5,405 755.5,397 755.5,390 C745,394 730,396 719.5,395.5 Z" fill="#1fa2e6" stroke="#1a5fb4" stroke-width="1.4" stroke-linejoin="round"/>
<circle cx="659.4" cy="406.9" r="8.4" fill="#f2f2f2" stroke="#666" stroke-width="1.4"/>
<circle cx="659.4" cy="406.9" r="5" fill="none" stroke="#bdbdbd" stroke-width="1.2"/>
<circle cx="658.4" cy="407.2" r="2.1" fill="#111"/>
<path d="M658.4,407.2 C652,408 646,411 642,414.5" fill="none" stroke="#111" stroke-width="2"/>
</g>

</g>

<!-- ================= MOLECULE ================= -->
<g id="molecule">
<g stroke="#111" stroke-width="2.1" fill="none" stroke-linecap="butt">
<path d="M454.2,237 V281"/>
<path d="M440.5,307 L380,352.5 L405,435 H496 L520,367.5"/>
<path d="M466,307 L513.5,342.5"/>
<path d="M415,423 H485"/>
<path d="M320.5,328.5 L381.5,350"/>
<path d="M317.5,336 L378.5,357.5"/>
</g>
<g class="r" fill="#111" font-size="28.5">
<text x="442" y="233.5" font-size="29.5">CH<tspan font-size="21" dy="7">3</tspan></text>
<text x="453.8" y="308.5" text-anchor="middle">N</text>
<text x="521" y="364" text-anchor="middle">S</text>
<text x="307.2" y="340.5" text-anchor="middle">O</text>
</g>
<text x="454.8" y="510" text-anchor="middle" class="b" font-size="59" letter-spacing="1" fill="#c218c2">MIT</text>

</g>

<!-- ================= ARROWS + ELECTRODE ================= -->
<g id="flow">
<defs>
<filter id="ash" x="-20%" y="-20%" width="140%" height="140%"><feGaussianBlur stdDeviation="1.6"/></filter>
</defs>
<!-- down arrow -->
<g fill="none" stroke-linejoin="miter">
<path d="M435.8,552 H471 V625 H487.3 L453,658.8 L418.2,625 H435.8 Z" stroke="#e3b6e6" stroke-width="4" transform="translate(1,1.5)" filter="url(#ash)"/>
<path d="M435.8,552 H471 V625 H487.3 L453,658.8 L418.2,625 H435.8 Z" stroke="#9b1e9e" stroke-width="2.8" fill="#fff"/>
</g>
<!-- right arrow -->
<g fill="none" stroke-linejoin="miter">
<path d="M656.5,877 H788.3 V858 L826.3,896.2 L788.3,934.4 V915.4 H656.5 Z" stroke="#e3b6e6" stroke-width="4" transform="translate(1,1.5)" filter="url(#ash)"/>
<path d="M656.5,877 H788.3 V858 L826.3,896.2 L788.3,934.4 V915.4 H656.5 Z" stroke="#7b1c86" stroke-width="3" fill="#fff"/>
</g>
<!-- AuNp -->
<text x="319.3" y="829.5" class="b" font-size="52" letter-spacing="-2.5" fill="#000">AuNp</text>
<g fill="#f6b417">
<circle cx="512.5" cy="775" r="12"/><circle cx="472.5" cy="800" r="12"/><circle cx="547" cy="793.8" r="12"/>
<circle cx="582.5" cy="801.3" r="12"/><circle cx="511.3" cy="810.5" r="12"/><circle cx="552.5" cy="828.8" r="12"/>
<circle cx="481.3" cy="836.3" r="12"/><circle cx="581.3" cy="850" r="12"/><circle cx="518.8" cy="853.8" r="12"/>
<circle cx="551.3" cy="870" r="12"/>
</g>
<!-- electrode strip -->
<g id="strip">
<path d="M288,910 L561,909 L584,984 L278,983 Z" fill="#f7f5f0"/>
<path d="M288,910 L561,909 L584,984 L278,983 Z" fill="none" stroke="#efece6" stroke-width="1"/>
<path d="M334,908 H453 C478,908 489,926 489,944 C489,963 478,980 453,980 H334 Q326,980 326,972 V916 Q326,908 334,908 Z" fill="#80d1ea"/>
<circle cx="444" cy="942" r="35" fill="#97d9ee"/>
<g stroke-linecap="butt">
<path d="M287,922 H324" stroke="#b9b7ae" stroke-width="4.5"/>
<path d="M283,940 H323" stroke="#b9b7ae" stroke-width="4.5"/>
<path d="M282,960 H322" stroke="#b9b7ae" stroke-width="4.5"/>
<path d="M287,919.5 H324 M283,937.5 H323 M282,957.5 H322" stroke="#e2e0d8" stroke-width="1.5"/>
</g>
<circle cx="446.5" cy="943" r="25" fill="#10141a"/>
<path d="M424,950 A23,23 0 0 0 445,967.5 L445,960 A16,16 0 0 1 431,948 Z" fill="#a9aaa2"/>
<circle cx="445" cy="941.5" r="18" fill="none" stroke="#eceeee" stroke-width="5"/>
<path d="M427,928 A25,25 0 0 1 437,920" stroke="#80d1ea" stroke-width="3" fill="none" stroke-dasharray="3 4"/>
<circle cx="443" cy="938.5" r="15" fill="#10141a"/>
<path d="M443,941 L445.5,971" stroke="#f4f4f4" stroke-width="2.6" fill="none"/>
<g fill="#86d3ea" class="b">
<text transform="translate(500,931) rotate(80)" font-size="15">114</text>
<text transform="translate(531,922) rotate(80) skewX(-12)" font-size="32">DS</text>
</g>
<circle cx="558" cy="913" r="1.6" fill="#5aa7dc"/>
</g>
<!-- pointer triangle -->
<path d="M446,925 L435,849 L525,905 L459,922.5" fill="none" stroke="#3a3a3a" stroke-width="1.3" stroke-linejoin="miter"/>

</g>
</svg>
</body>
</html>
